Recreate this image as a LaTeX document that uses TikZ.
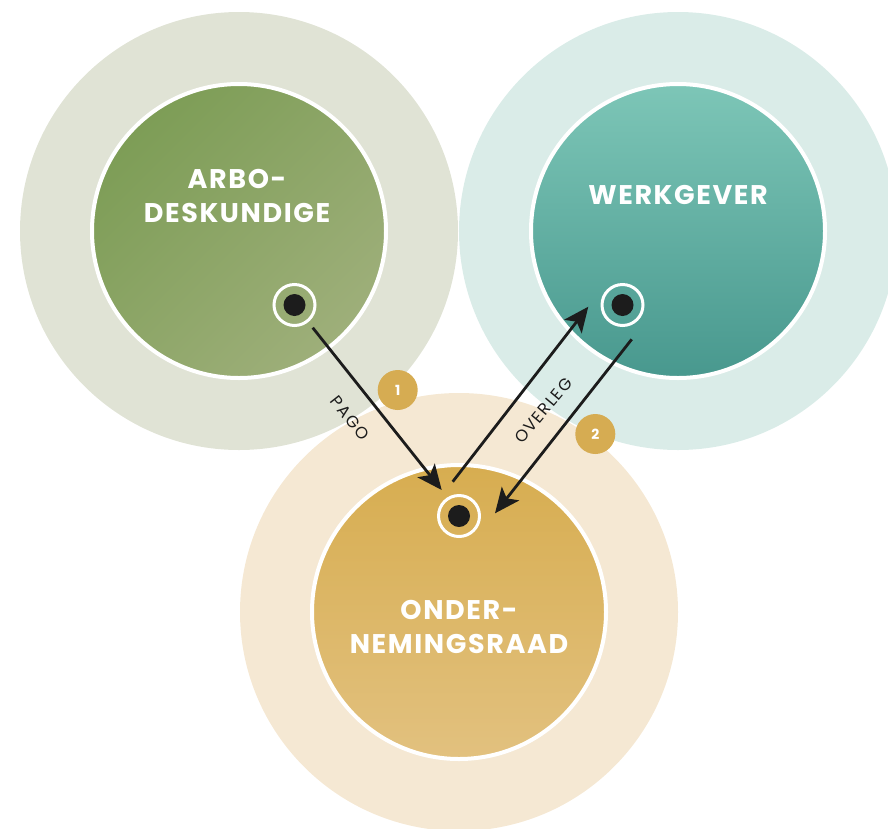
\documentclass[tikz,border=0pt]{standalone}
\usepackage{fontspec}
\setmainfont{Poppins}
\usetikzlibrary{arrows.meta}

\definecolor{arboHalo}{HTML}{E0E3D5}
\definecolor{arboDark}{HTML}{7D9D56}
\definecolor{arboLight}{HTML}{9EAF7A}
\definecolor{werkHalo}{HTML}{DAECE8}
\definecolor{werkTop}{HTML}{7DC6B7}
\definecolor{werkBottom}{HTML}{48988E}
\definecolor{orHalo}{HTML}{F5E8D3}
\definecolor{orTop}{HTML}{D7AD50}
\definecolor{orBottom}{HTML}{E2C17F}
\definecolor{badgeGold}{HTML}{D6AC52}
\definecolor{inkBlack}{HTML}{1C1C1C}

\begin{document}
\begin{tikzpicture}[x=1pt,y=-1pt,
  halo/.style={circle, minimum size=438pt, inner sep=0pt},
  core/.style={circle, minimum size=294pt, inner sep=0pt, draw=white, line width=4pt},
  ringdot/.style={circle, minimum size=41pt, inner sep=0pt, draw=white, line width=3pt},
  pip/.style={circle, minimum size=22pt, inner sep=0pt, fill=inkBlack},
  flow/.style={draw=inkBlack, line width=2.8pt, -{Stealth[length=25pt,width=22pt,inset=6pt]}},
  badge/.style={circle, minimum size=40pt, inner sep=0pt, fill=badgeGold, text=white,
    font=\bfseries\fontsize{14}{14}\selectfont},
  title/.style={text=white, align=center, inner sep=0pt,
    font=\bfseries\fontsize{27}{34}\selectfont\addfontfeature{LetterSpace=6}},
  tag/.style={text=inkBlack, inner sep=0pt, font=\fontsize{16.5}{16.5}\selectfont\addfontfeature{LetterSpace=9}}
]
\useasboundingbox (0,0) rectangle (888,828);
\clip (0,0) rectangle (888,828);

% light halos
\node[halo, fill=arboHalo] (arboHaloN) at (239,231) {};
\node[halo, fill=werkHalo] (werkHaloN) at (678,231) {};
\node[halo, fill=orHalo]   (orHaloN)   at (459,612) {};

% coloured discs with white rims
\node[core, top color=arboDark, bottom color=arboLight, shading angle=45] (arbo) at (239,231) {};
\node[core, top color=werkTop, bottom color=werkBottom] (werk) at (678,231) {};
\node[core, top color=orTop, bottom color=orBottom] (or) at (459,612) {};

% titles
\node[title] (arboT) at (237,196) {ARBO-\\DESKUNDIGE};
\node[title] (werkT) at (678,195) {WERKGEVER};
\node[title] (orT)   at (459,627) {ONDER-\\NEMINGSRAAD};

% contact points
\node[ringdot] (arboDot) at (294.5,305) {};
\node[pip] at (arboDot) {};
\node[ringdot] (werkDot) at (622.5,305) {};
\node[pip] at (werkDot) {};
\node[ringdot] (orDot) at (459,516) {};
\node[pip] at (orDot) {};

% arrow end points
\coordinate (pagoS) at (312.7,327.7);
\coordinate (pagoE) at (441.7,490);
\coordinate (ovlS)  at (452.7,481.7);
\coordinate (ovlE)  at (588.3,306.7);
\coordinate (backS) at (631.7,339.3);
\coordinate (backE) at (495,513.3);

\draw[flow] (pagoS) -- (pagoE);
\draw[flow] (ovlS) -- (ovlE);
\draw[flow] (backS) -- (backE);

% labels and step badges
\node[tag, rotate=-52] (pago) at (350,418) {PAGO};
\node[tag, rotate=50] (ovl) at (543.3,410.5) {OVERLEG};
\node[badge] (b1) at (397.7,390) {1};
\node[badge] (b2) at (595.3,434) {2};
\end{tikzpicture}
\end{document}
